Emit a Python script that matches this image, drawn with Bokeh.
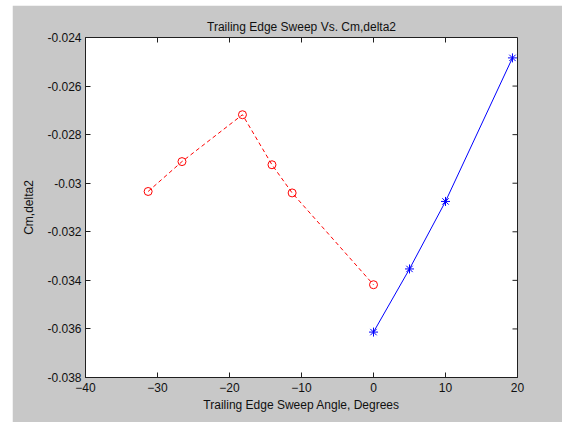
from math import pi
from bokeh.plotting import figure
from bokeh.models import FixedTicker, Spacer
from bokeh.layouts import row, column
from bokeh.embed import file_html
from bokeh.resources import INLINE

# Trailing-edge sweep study: negative sweep (red) and positive sweep (blue)
neg_sweep = [-31.3, -26.6, -18.2, -14.1, -11.3, 0.0]
neg_cm = [-0.03034, -0.02911, -0.02718, -0.02924, -0.03040, -0.03418]

pos_sweep = [0.0, 5.0, 10.0, 19.3]
pos_cm = [-0.03613, -0.03353, -0.03075, -0.02484]

x_ticks = [-40, -30, -20, -10, 0, 10, 20]
y_ticks = [-0.038, -0.036, -0.034, -0.032, -0.030, -0.028, -0.026, -0.024]
y_tick_labels = ["-0.038", "-0.036", "-0.034", "-0.032", "-0.03", "-0.028", "-0.026", "-0.024"]

X_MIN, X_MAX = -40, 20
Y_MIN, Y_MAX = -0.038, -0.024

FONT = "Liberation Sans"
BG = "#c8c8c8"
INK = "#202020"

p = figure(
    width=550, height=417,
    x_range=(X_MIN, X_MAX), y_range=(Y_MIN, Y_MAX),
    output_backend="svg", toolbar_location=None,
    min_border_left=73, min_border_right=45,
    min_border_top=32, min_border_bottom=45,
    background_fill_color="white", border_fill_color=BG,
    title="Trailing Edge Sweep Vs. Cm,delta2",
)
p.grid.visible = False
p.outline_line_color = INK
p.outline_line_width = 1

p.title.text_font = FONT
p.title.text_font_size = "12px"
p.title.text_font_style = "normal"
p.title.text_color = "#101010"
p.title.align = "center"
p.title.standoff = 8

xa = p.xaxis[0]
ya = p.yaxis[0]
xa.ticker = FixedTicker(ticks=x_ticks)
ya.ticker = FixedTicker(ticks=y_ticks)
ya.major_label_overrides = dict(zip(y_ticks, y_tick_labels))
xa.axis_label = "Trailing Edge Sweep Angle, Degrees"
ya.axis_label = "Cm,delta2"

for ax in (xa, ya):
    ax.axis_line_color = INK
    ax.major_tick_line_color = INK
    ax.major_tick_in = 5
    ax.major_tick_out = 0
    ax.minor_tick_line_color = None
    ax.major_label_text_font = FONT
    ax.major_label_text_font_size = "12px"
    ax.major_label_text_color = "#101010"
    ax.axis_label_text_font = FONT
    ax.axis_label_text_font_size = "12px"
    ax.axis_label_text_font_style = "normal"
    ax.axis_label_text_color = "#101010"
xa.major_label_standoff = 5
ya.major_label_standoff = 4
xa.axis_label_standoff = 3
ya.axis_label_standoff = 8

# mirrored inward ticks along the top and right edges of the box
p.ray(x=x_ticks, y=[Y_MAX] * len(x_ticks), length=5, length_units="screen",
      angle=-pi / 2, line_color=INK, line_width=1)
p.ray(x=[X_MAX] * len(y_ticks), y=y_ticks, length=5, length_units="screen",
      angle=pi, line_color=INK, line_width=1)

p.line(neg_sweep, neg_cm, line_color="#ff0000", line_width=1, line_dash="4 3")
p.scatter(neg_sweep, neg_cm, marker="circle", size=8, fill_color=None,
          line_color="#ff0000", line_width=1)

p.line(pos_sweep, pos_cm, line_color="#0000ff", line_width=1)
p.scatter(pos_sweep, pos_cm, marker="asterisk", size=9,
          line_color="#0000ff", line_width=1)

layout = row(Spacer(width=12), column(Spacer(height=5), p))
open("out.html", "w").write(file_html(layout, INLINE))
